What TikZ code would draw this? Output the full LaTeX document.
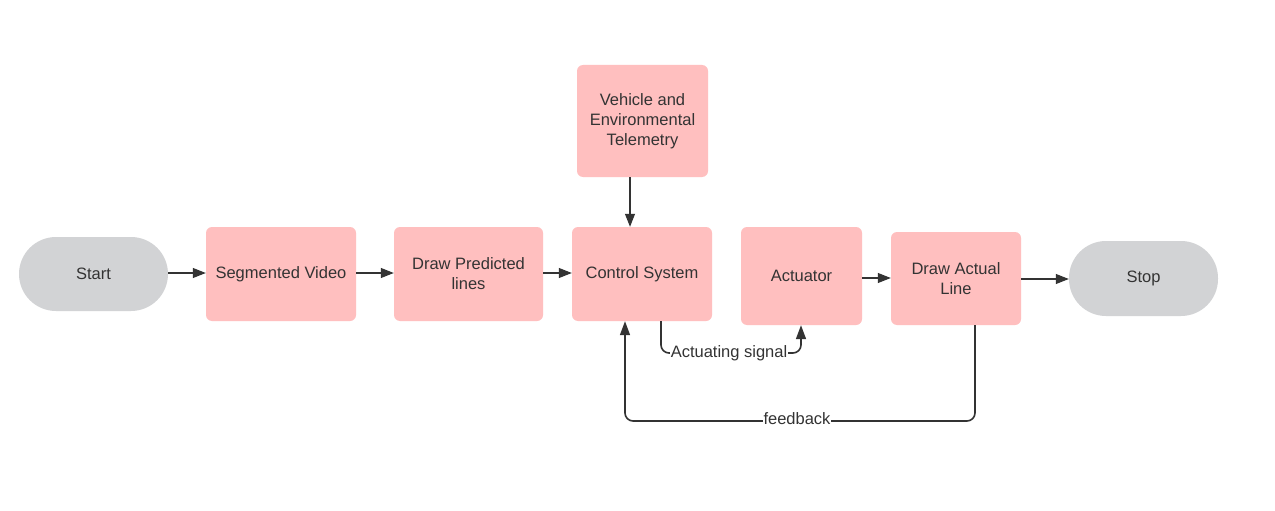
\documentclass[tikz,border=0pt]{standalone}
\usepackage{fontspec}
\setmainfont{Liberation Sans}
\usetikzlibrary{arrows.meta}
\definecolor{boxpink}{HTML}{FFBFBF}
\definecolor{termgray}{HTML}{D2D3D5}
\definecolor{ink}{HTML}{333333}
\begin{document}
\begin{tikzpicture}[x=1pt,y=-1pt,
  every node/.style={font=\fontsize{16.5}{20}\selectfont, text=ink, align=center, inner sep=0pt},
  procbox/.style={fill=boxpink, rounded corners=6pt, draw=none},
  term/.style={fill=termgray, rounded corners=37pt, draw=none},
  conn/.style={draw=ink, line width=1.1pt, -{Triangle[length=13pt,width=10pt]}},
  fb/.style={draw=ink, line width=1.6pt, rounded corners=8pt, -{Triangle[length=14pt,width=10pt]}},
  lbl/.style={fill=white, inner xsep=1pt, inner ysep=2pt}]
\useasboundingbox (0,0) rectangle (1275,511);
\fill[white] (0,0) rectangle (1275,511);
\node[term, minimum width=149pt, minimum height=74pt] (start) at (93.5,274) {Start};
\node[procbox, minimum width=150pt, minimum height=94pt] (seg) at (281,274) {Segmented Video};
\node[procbox, minimum width=149pt, minimum height=94pt] (dpl) at (468.5,274) {Draw Predicted\\lines};
\node[procbox, minimum width=140pt, minimum height=94pt] (cs) at (642,274) {Control System};
\node[procbox, minimum width=131pt, minimum height=112pt] (veh) at (642.5,121) {Vehicle and\\Environmental\\Telemetry};
\node[procbox, minimum width=121pt, minimum height=98pt] (act) at (801.5,276) {Actuator};
\node[procbox, minimum width=130pt, minimum height=93pt] (dal) at (956,278.5) {Draw Actual\\Line};
\node[term, minimum width=149pt, minimum height=75pt] (stop) at (1143.5,278.5) {Stop};
\draw[conn] (start.east |- 0,273) -- (seg.west |- 0,273);
\draw[conn] (seg.east |- 0,273) -- (dpl.west |- 0,273);
\draw[conn] (dpl.east |- 0,273) -- (cs.west |- 0,273);
\draw[conn] (veh.south -| 630,0) -- (cs.north -| 630,0);
\draw[conn] (act.east |- 0,278) -- (dal.west |- 0,278);
\draw[conn] (dal.east |- 0,279) -- (stop.west |- 0,279);
\coordinate (a1) at (661,353);
\coordinate (a2) at (801,353);
\draw[fb] (cs.south -| a1) -- (a1) -- (a2) -- (act.south -| a2);
\node[lbl] (albl) at (729,353) {Actuating signal};
\coordinate (f1) at (975,421);
\coordinate (f2) at (625,421);
\draw[fb] (dal.south -| f1) -- (f1) -- (f2) -- (cs.south -| f2);
\node[lbl] (flbl) at (797,419) {feedback};
\end{tikzpicture}
\end{document}
